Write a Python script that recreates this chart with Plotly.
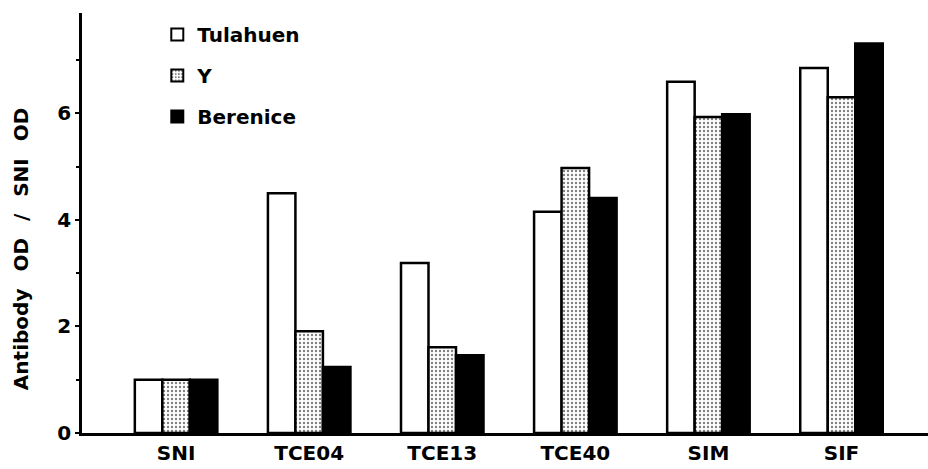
import plotly.graph_objects as go

categories = ["SNI", "TCE04", "TCE13", "TCE40", "SIM", "SIF"]
tulahuen = [1.0, 4.5, 3.19, 4.15, 6.59, 6.85]
y_strain = [1.0, 1.91, 1.61, 4.97, 5.93, 6.30]
berenice = [1.0, 1.24, 1.46, 4.41, 5.98, 7.31]
y_ticks = [0, 2, 4, 6]
y_title = "Antibody\u2002 OD\u2002 /\u2002 SNI\u2002 OD"

FONT = "DejaVu Sans"

fig = go.Figure()
fig.add_trace(go.Bar(name="Tulahuen", x=categories, y=tulahuen, legendgroup="t",
                     marker=dict(color="white", line=dict(color="black", width=2.5))))
fig.add_trace(go.Bar(name="Y", x=categories, y=y_strain, legendgroup="y",
                     marker=dict(color="white", line=dict(color="black", width=2.5),
                                 pattern=dict(shape=".", fgcolor="black", bgcolor="white",
                                              size=4, solidity=0.28))))
fig.add_trace(go.Bar(name="Berenice", x=categories, y=berenice, legendgroup="b",
                     marker=dict(color="black", line=dict(color="black", width=2.5))))

fig.update_layout(
    width=928, height=469,
    margin=dict(l=82, r=0, t=13, b=36),
    paper_bgcolor="white", plot_bgcolor="white",
    barmode="group", bargap=0.38, bargroupgap=0,
    showlegend=True,
    legend=dict(x=0.089, y=0.995, xanchor="left", yanchor="top",
                font=dict(family=FONT, size=20, color="black", weight="bold"),
                bgcolor="rgba(0,0,0,0)", itemsizing="constant", tracegroupgap=12),
    font=dict(family=FONT, color="black"),
    annotations=[dict(text=y_title, textangle=-90, xref="paper", yref="paper",
                      x=-0.072, y=0.438, xanchor="center", yanchor="middle", showarrow=False,
                      font=dict(family=FONT, size=20, color="black", weight="bold"))],
)
fig.update_xaxes(
    range=[-0.707, 5.65], showgrid=False, showline=True, linecolor="black", linewidth=3,
    ticks="", tickfont=dict(family=FONT, size=20, color="black", weight="bold"),
    zeroline=False,
)
fig.update_yaxes(
    range=[0, 7.88], showgrid=False, showline=True, linecolor="black", linewidth=2.5,
    tickvals=y_ticks, ticktext=[str(v) for v in y_ticks],
    ticks="outside", ticklen=4, tickwidth=2, tickcolor="black",
    minor=dict(tickvals=[1, 3, 5, 7], ticks="outside", ticklen=3, tickwidth=1.5, tickcolor="black"),
    tickfont=dict(family=FONT, size=20, color="black", weight="bold"),
    zeroline=False,
)

fig.write_html("out.html", config={"displayModeBar": False},
               post_script="document.body.style.margin='0';document.body.style.overflow='hidden';")
